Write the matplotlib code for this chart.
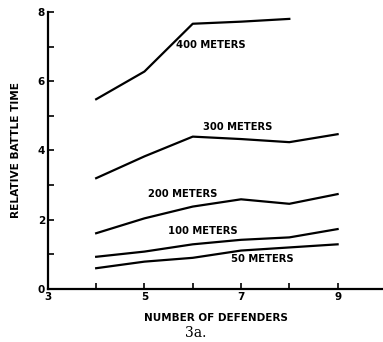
import matplotlib.pyplot as plt

# number of defenders
defenders = [4, 5, 6, 7, 8, 9]

# relative battle time per range
m50 = [0.60, 0.79, 0.90, 1.11, 1.20, 1.29]
m100 = [0.93, 1.08, 1.29, 1.42, 1.49, 1.73]
m200 = [1.61, 2.04, 2.38, 2.59, 2.46, 2.74]
m300 = [3.20, 3.83, 4.40, 4.33, 4.24, 4.47]
m400_x = [4, 5, 6, 7, 8]
m400 = [5.48, 6.28, 7.66, 7.72, 7.80]

plt.rcParams['font.family'] = 'DejaVu Sans'
fig = plt.figure(figsize=(3.83, 3.42), dpi=100)
ax = fig.add_axes([0.125, 0.155, 0.875, 0.81])

lw = 1.6
ax.plot(defenders, m50, color='black', lw=lw)
ax.plot(defenders, m100, color='black', lw=lw)
ax.plot(defenders, m200, color='black', lw=lw)
ax.plot(defenders, m300, color='black', lw=lw)
ax.plot(m400_x, m400, color='black', lw=lw)

# curve labels
kw = dict(fontsize=7.2, fontweight='bold', color='black')
ax.text(6.37, 7.05, '400 METERS', ha='center', va='center', **kw)
ax.text(6.93, 4.67, '300 METERS', ha='center', va='center', **kw)
ax.text(5.8, 2.75, '200 METERS', ha='center', va='center', **kw)
ax.text(6.2, 1.68, '100 METERS', ha='center', va='center', **kw)
ax.text(7.45, 0.87, '50 METERS', ha='center', va='center', **kw)

ax.set_xlim(3, 9.94)
ax.set_ylim(0, 8)
ax.set_xticks([3, 4, 5, 6, 7, 8, 9])
ax.set_xticklabels(['3', '', '5', '', '7', '', '9'])
ax.set_yticks(range(0, 9))
ax.set_yticklabels(['0', '', '2', '', '4', '', '6', '', '8'])
ax.tick_params(direction='in', length=4, width=1.2, labelsize=7.5, pad=2)
for lab in ax.get_xticklabels() + ax.get_yticklabels():
    lab.set_fontweight('bold')

for s in ['top', 'right']:
    ax.spines[s].set_visible(False)
for s in ['left', 'bottom']:
    ax.spines[s].set_linewidth(1.6)

ax.set_ylabel('RELATIVE BATTLE TIME', fontsize=7.6, fontweight='bold', labelpad=12)
ax.set_xlabel('NUMBER OF DEFENDERS', fontsize=7.5, fontweight='bold', labelpad=8)
fig.text(0.512, 0.026, '3a.', ha='center', va='center', fontsize=10, family='DejaVu Serif')

fig.savefig('out.png', dpi=100)
